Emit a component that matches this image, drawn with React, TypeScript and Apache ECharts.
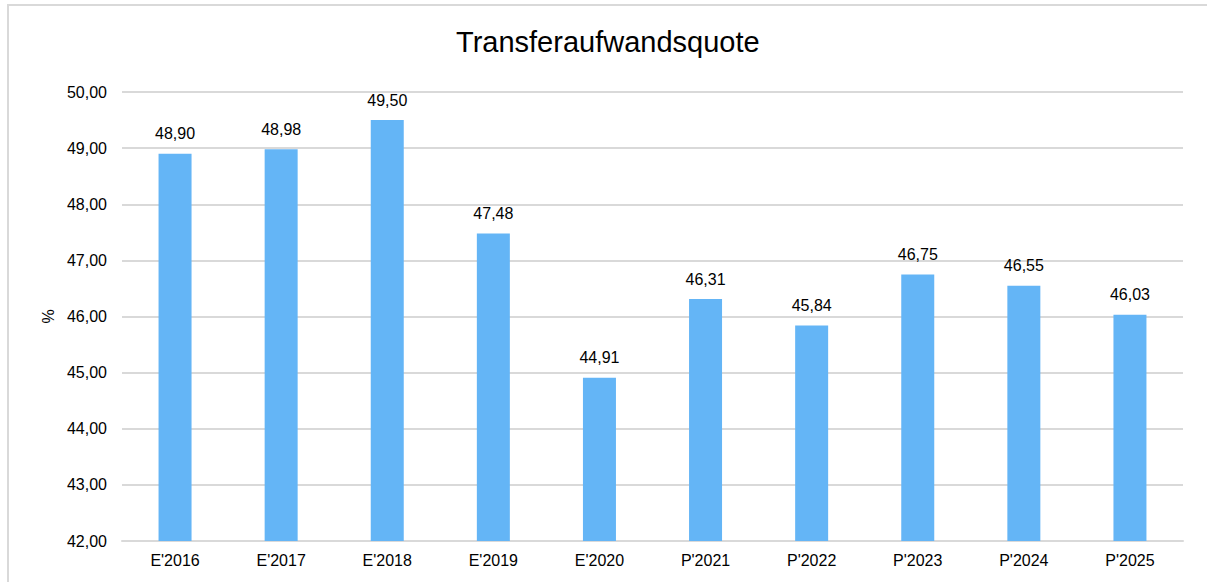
import React, { useEffect, useRef } from "react";
import * as echarts from "echarts";

const categories = ["E'2016", "E'2017", "E'2018", "E'2019", "E'2020", "P'2021", "P'2022", "P'2023", "P'2024", "P'2025"];
const values = [48.9, 48.98, 49.5, 47.48, 44.91, 46.31, 45.84, 46.75, 46.55, 46.03];
const titleText = "Transferaufwandsquote";
const yAxisName = "%";

const fmt = (v: number) => v.toFixed(2).replace(".", ",");

export default function App() {
  const ref = useRef<HTMLDivElement>(null);
  useEffect(() => {
    if (!ref.current) return;
    const chart = echarts.init(ref.current, undefined, { renderer: "svg" });
    const font = "'Liberation Sans', Arial, sans-serif";
    chart.setOption({
      animation: false,
      textStyle: { fontFamily: font },
      title: {
        text: titleText,
        left: 451,
        top: 22,
        textStyle: { fontFamily: font, fontSize: 29, fontWeight: "normal", color: "#000" },
      },
      grid: { left: 122, right: 24, top: 92, bottom: 41 },
      xAxis: {
        type: "category",
        data: categories,
        axisLine: { show: true, lineStyle: { color: "#d9d9d9", width: 2 } },
        axisTick: { show: false },
        axisLabel: { color: "#000", fontSize: 16, margin: 11, fontFamily: font },
      },
      yAxis: {
        type: "value",
        min: 42,
        max: 50,
        interval: 1,
        name: yAxisName,
        nameLocation: "middle",
        nameGap: 66,
        nameRotate: 90,
        nameTextStyle: { color: "#000", fontSize: 16, fontFamily: font },
        axisLine: { show: false },
        axisTick: { show: false },
        axisLabel: { color: "#000", fontSize: 16, margin: 15, fontFamily: font, formatter: (v: number) => fmt(v) },
        splitLine: { lineStyle: { color: "#d9d9d9", width: 2 } },
      },
      series: [
        {
          type: "bar",
          data: values,
          barWidth: 33,
          itemStyle: { color: "#64b5f6" },
          label: {
            show: true,
            position: "top",
            distance: 12,
            color: "#000",
            fontSize: 16,
            fontFamily: font,
            formatter: (p: any) => fmt(p.value),
          },
        },
      ],
    });
    return () => chart.dispose();
  }, []);
  return (
    <div style={{ position: "fixed", left: 0, top: 0, width: 1207, height: 582, overflow: "hidden", background: "#fff" }}>
      <div style={{ position: "absolute", left: 7, top: 4, width: 1220, height: 620, border: "2px solid #d9d9d9", boxSizing: "border-box" }} />
      <div ref={ref} style={{ position: "absolute", left: 0, top: 0, width: 1207, height: 582 }} />
    </div>
  );
}
